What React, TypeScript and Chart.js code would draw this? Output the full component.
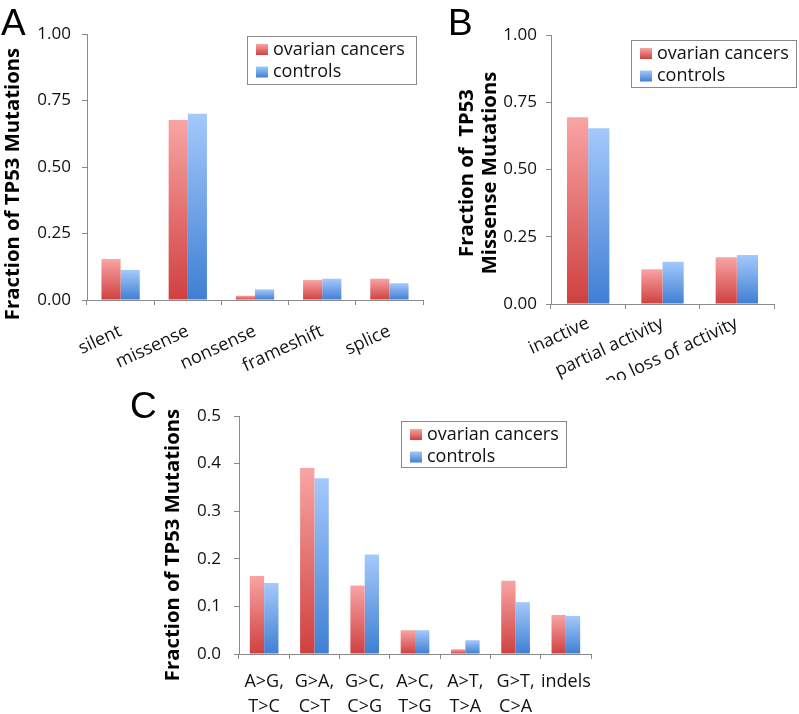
import React, { useEffect, useRef } from "react";
import { Chart, registerables } from "chart.js";

Chart.register(...registerables);

// ---------- data ----------
const seriesNames = ["ovarian cancers", "controls"];

const mutationTypes = ["silent", "missense", "nonsense", "frameshift", "splice"];
const mutationTypeOvarian = [0.154, 0.677, 0.016, 0.075, 0.08];
const mutationTypeControls = [0.113, 0.7, 0.04, 0.08, 0.063];
const yTicksA = [0, 0.25, 0.5, 0.75, 1.0];

const activityClasses = ["inactive", "partial activity", "no loss of activity"];
const activityOvarian = [0.694, 0.129, 0.174];
const activityControls = [0.653, 0.157, 0.182];
const yTicksB = [0, 0.25, 0.5, 0.75, 1.0];

const substitutionTypes = [
  ["A>G,", "T>C"],
  ["G>A,", "C>T"],
  ["G>C,", "C>G"],
  ["A>C,", "T>G"],
  ["A>T,", "T>A"],
  ["G>T,", "C>A"],
  "indels",
];
const substitutionOvarian = [0.164, 0.391, 0.144, 0.05, 0.01, 0.154, 0.082];
const substitutionControls = [0.149, 0.369, 0.209, 0.05, 0.029, 0.109, 0.08];
const yTicksC = [0, 0.1, 0.2, 0.3, 0.4, 0.5];

const titleA = ["Fraction of TP53 Mutations"];
const titleB = ["Fraction of  TP53", "Missense Mutations"];
const titleC = ["Fraction of TP53 Mutations"];

// ---------- styles ----------
const FONT = '"Open Sans", "DejaVu Sans", sans-serif';
const AXIS = "#8a8a8a";
const TEXT = "#111111";
const PALETTES = [
  { top: "#F9A4A4", bottom: "#CF4040", solid: "#E06262" },
  { top: "#A4C9FB", bottom: "#3F7FD3", solid: "#6C9FE6" },
];

function barGradient(pal: any) {
  return (ctx: any) => {
    const chart = ctx.chart;
    if (ctx.type !== "data" || !chart.chartArea) return pal.solid;
    const y = chart.scales.y;
    const top = y.getPixelForValue(ctx.raw as number);
    const bottom = y.getPixelForValue(0);
    if (!isFinite(top) || !isFinite(bottom) || bottom - top < 1) return pal.bottom;
    const g = chart.ctx.createLinearGradient(0, top, 0, bottom);
    g.addColorStop(0, pal.top);
    g.addColorStop(1, pal.bottom);
    return g;
  };
}

const decorPlugin = {
  id: "panelDecor",
  afterDraw(chart: any, _args: any, o: any) {
    const c = chart.ctx as CanvasRenderingContext2D;
    c.save();
    if (o.letter) {
      c.font = '37px "Liberation Sans", Arial, sans-serif';
      c.fillStyle = "#000";
      c.textAlign = "left";
      c.textBaseline = "alphabetic";
      c.fillText(o.letter.text, o.letter.x, o.letter.y);
    }
    if (o.title) {
      const { lines, cx, cy, gap } = o.title;
      c.save();
      c.translate(cx, cy);
      c.rotate(-Math.PI / 2);
      c.font = `bold 20.3px ${FONT}`;
      c.fillStyle = "#000";
      c.textAlign = "center";
      c.textBaseline = "middle";
      lines.forEach((ln: string, i: number) => {
        c.fillText(ln, 0, (i - (lines.length - 1) / 2) * gap);
      });
      c.restore();
    }
    if (o.legend) {
      const { x, y, w, h } = o.legend;
      c.fillStyle = "#fff";
      c.fillRect(x, y, w, h);
      c.strokeStyle = AXIS;
      c.lineWidth = 1;
      c.strokeRect(Math.round(x) + 0.5, Math.round(y) + 0.5, w, h);
      chart.data.datasets.forEach((ds: any, i: number) => {
        const rowY = y + 13.5 + i * 22.5;
        const pal = PALETTES[i];
        const g = c.createLinearGradient(0, rowY - 5.5, 0, rowY + 5.5);
        g.addColorStop(0, pal.top);
        g.addColorStop(1, pal.bottom);
        c.fillStyle = g;
        c.fillRect(x + 9, rowY - 5.5, 12, 11);
        c.fillStyle = TEXT;
        c.font = `18px ${FONT}`;
        c.textAlign = "left";
        c.textBaseline = "middle";
        c.fillText(ds.label, x + 26, rowY);
      });
    }
    c.restore();
  },
};

function makeConfig(p: any) {
  return {
    type: "bar",
    data: {
      labels: p.labels,
      datasets: [
        { label: seriesNames[0], data: p.ovarian, backgroundColor: barGradient(PALETTES[0]), borderWidth: 0 },
        { label: seriesNames[1], data: p.controls, backgroundColor: barGradient(PALETTES[1]), borderWidth: 0 },
      ],
    },
    plugins: [decorPlugin],
    options: {
      responsive: false,
      maintainAspectRatio: false,
      animation: false,
      devicePixelRatio: 1,
      layout: { padding: { left: 0, top: p.plotTop, right: p.width - p.plotRight, bottom: 0 } },
      datasets: { bar: { categoryPercentage: 0.57, barPercentage: 1.0 } },
      plugins: {
        legend: { display: false },
        title: { display: false },
        tooltip: { enabled: false },
        panelDecor: p.decor,
      },
      scales: {
        x: {
          type: "category",
          offset: true,
          grid: {
            display: true,
            offset: true,
            drawOnChartArea: false,
            drawTicks: true,
            tickLength: 5,
            color: AXIS,
            lineWidth: 1,
          },
          border: { display: true, color: AXIS, width: 1 },
          ticks: {
            autoSkip: false,
            minRotation: p.rotation,
            maxRotation: p.rotation,
            padding: p.padX,
            color: TEXT,
            font: { family: FONT, size: 18, lineHeight: 1.4 },
          },
          afterFit: (s: any) => {
            s.height = p.height - p.plotBottom;
          },
        },
        y: {
          min: 0,
          max: p.ticks[p.ticks.length - 1],
          afterBuildTicks: (s: any) => {
            s.ticks = p.ticks.map((v: number) => ({ value: v }));
          },
          grid: { drawOnChartArea: false, drawTicks: true, tickLength: 5, color: AXIS, lineWidth: 1 },
          border: { display: true, color: AXIS, width: 1 },
          ticks: {
            padding: p.padY,
            color: TEXT,
            font: { family: FONT, size: 17 },
            callback: (v: any) => Number(v).toFixed(p.decimals),
          },
          afterFit: (s: any) => {
            s.width = p.plotLeft;
          },
        },
      },
    },
  };
}

function Panel(props: { left: number; top: number; width: number; height: number; cfg: any }) {
  const ref = useRef<HTMLCanvasElement | null>(null);
  useEffect(() => {
    if (!ref.current) return;
    const chart = new Chart(ref.current, makeConfig(props.cfg) as any);
    return () => chart.destroy();
  }, []);
  return (
    <canvas
      ref={ref}
      width={props.width}
      height={props.height}
      style={{
        position: "absolute",
        left: props.left,
        top: props.top,
        width: props.width,
        height: props.height,
        display: "block",
      }}
    />
  );
}

export default function App() {
  const A = {
    labels: mutationTypes,
    ovarian: mutationTypeOvarian,
    controls: mutationTypeControls,
    ticks: yTicksA,
    decimals: 2,
    width: 440,
    height: 380,
    plotLeft: 87,
    plotTop: 34,
    plotRight: 423,
    plotBottom: 300,
    rotation: 25,
    padX: 14,
    padY: 11,
    decor: {
      letter: { text: "A", x: 1, y: 35 },
      title: { lines: titleA, cx: 13.5, cy: 184, gap: 23 },
      legend: { x: 247, y: 36, w: 169, h: 48 },
    },
  };
  const B = {
    labels: activityClasses,
    ovarian: activityOvarian,
    controls: activityControls,
    ticks: yTicksB,
    decimals: 2,
    width: 369,
    height: 380,
    plotLeft: 121,
    plotTop: 35,
    plotRight: 344,
    plotBottom: 304,
    rotation: 25,
    padX: 2,
    padY: 9,
    decor: {
      letter: { text: "B", x: 18, y: 35 },
      title: { lines: titleB, cx: 48.5, cy: 173, gap: 23 },
      legend: { x: 201, y: 40, w: 165, h: 47 },
    },
  };
  const C = {
    labels: substitutionTypes,
    ovarian: substitutionOvarian,
    controls: substitutionControls,
    ticks: yTicksC,
    decimals: 1,
    width: 500,
    height: 344,
    plotLeft: 119,
    plotTop: 46,
    plotRight: 471,
    plotBottom: 284,
    rotation: 0,
    padX: 10,
    padY: 13,
    decor: {
      letter: { text: "C", x: 10, y: 48 },
      title: { lines: titleC, cx: 53, cy: 175, gap: 23 },
      legend: { x: 281, y: 51, w: 165, h: 46 },
    },
  };
  return (
    <div style={{ position: "absolute", left: 0, top: 0, width: 799, height: 714, background: "#fff", overflow: "hidden" }}>
      <Panel left={0} top={0} width={A.width} height={A.height} cfg={A} />
      <Panel left={430} top={0} width={B.width} height={B.height} cfg={B} />
      <Panel left={120} top={370} width={C.width} height={C.height} cfg={C} />
    </div>
  );
}
